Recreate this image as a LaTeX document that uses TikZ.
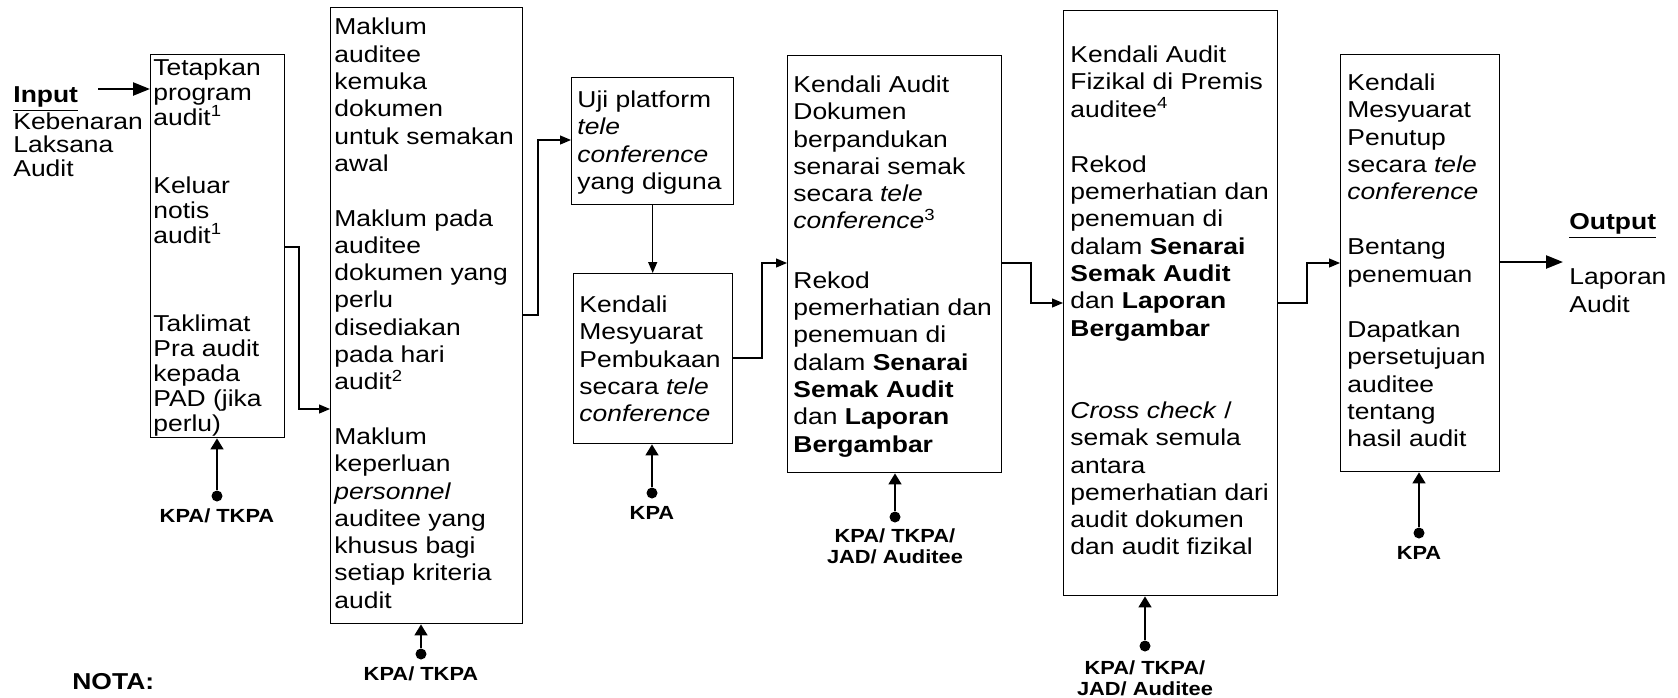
\documentclass[tikz,border=0pt]{standalone}
\usepackage{fontspec}
\setmainfont{Liberation Sans}[FakeStretch=1.15]
\usetikzlibrary{arrows.meta}
\newcommand\firstln{\rule{0pt}{10pt}}
\newcommand\firstlb{\rule{0pt}{8pt}}
\begin{document}
\begin{tikzpicture}[x=0.5pt,y=-0.5pt,
  box/.style={draw, line width=0.7pt, inner sep=0, anchor=north west},
  txt/.style={inner sep=0, anchor=north west, align=left, font=\fontsize{11.5}{13.65}\selectfont},
  conn/.style={line width=0.6pt, -{Triangle[length=5.5pt,width=4.5pt]}},
  kpa/.style={line width=0.8pt, -{Triangle[length=5.5pt,width=6.5pt]}},
  dotn/.style={circle, fill, inner sep=0, minimum size=5.5pt},
  lbl/.style={inner sep=0, anchor=north, align=center, font=\fontsize{9.5}{10.5}\selectfont\bfseries},
  big/.style={line width=1.2pt, -{Triangle[length=8.5pt,width=6.5pt]}}]
\fill[white] (0,0) rectangle (1678,697);
\useasboundingbox (0,0) rectangle (1678,697);

% boxes
\node[box, minimum width=67pt, minimum height=191.5pt] (b1) at (150,54) {};
\node[box, minimum width=96pt, minimum height=308pt] (b2) at (330,7) {};
\node[box, minimum width=81pt, minimum height=63.5pt] (b3) at (571,77) {};
\node[box, minimum width=79.5pt, minimum height=85pt] (b4) at (573,273) {};
\node[box, minimum width=107pt, minimum height=208.5pt] (b5) at (787,55) {};
\node[box, minimum width=107pt, minimum height=292.5pt] (b6) at (1063,10) {};
\node[box, minimum width=79.5pt, minimum height=208.5pt] (b7) at (1340,54) {};

% texts
\node[txt] (inp) at (13,82) {\firstln\textbf{\underline{Input}}};
\node[txt, font=\fontsize{11.5}{11.75}\selectfont] (inptxt) at (13,109) {\firstln Kebenaran\\Laksana\\Audit};

\node[txt, font=\fontsize{11.5}{12.5}\selectfont] (t1) at (153,55) {\firstln Tetapkan\\program\\audit\textsuperscript{1}\\[21.5pt]Keluar\\notis\\audit\textsuperscript{1}\\[31.5pt]Taklimat\\Pra audit\\kepada\\PAD (jika\\perlu)};

\node[txt] (t2) at (334,14.5) {\firstln Maklum\\auditee\\kemuka\\dokumen\\untuk semakan\\awal\\[13.65pt]Maklum pada\\auditee\\dokumen yang\\perlu\\disediakan\\pada hari\\audit\textsuperscript{2}\\[13.65pt]Maklum\\keperluan\\\textit{personnel}\\auditee yang\\khusus bagi\\setiap kriteria\\audit};

\node[txt] (t3) at (577,87) {\firstln Uji platform\\\textit{tele}\\\textit{conference}\\yang diguna};

\node[txt] (t4) at (579,292) {\firstln Kendali\\Mesyuarat\\Pembukaan\\secara \textit{tele}\\\textit{conference}};

\node[txt] (t5) at (793,72) {\firstln Kendali Audit\\Dokumen\\berpandukan\\senarai semak\\secara \textit{tele}\\\textit{conference}\textsuperscript{3}\\[16pt]Rekod\\pemerhatian dan\\penemuan di\\dalam \textbf{Senarai}\\\textbf{Semak Audit}\\dan \textbf{Laporan}\\\textbf{Bergambar}};

\node[txt] (t6) at (1070,42) {\firstln Kendali Audit\\Fizikal di Premis\\auditee\textsuperscript{4}\\[14pt]Rekod\\pemerhatian dan\\penemuan di\\dalam \textbf{Senarai}\\\textbf{Semak Audit}\\dan \textbf{Laporan}\\\textbf{Bergambar}\\[27.5pt]\textit{Cross check} /\\semak semula\\antara\\pemerhatian dari\\audit dokumen\\dan audit fizikal};

\node[txt] (t7) at (1347,70) {\firstln Kendali\\Mesyuarat\\Penutup\\secara \textit{tele}\\\textit{conference}\\[14pt]Bentang\\penemuan\\[14pt]Dapatkan\\persetujuan\\auditee\\tentang\\hasil audit};

\node[txt] (outp) at (1569,209) {\firstln\textbf{\underline{Output}}};
\node[txt, font=\fontsize{11.5}{14}\selectfont] (outtxt) at (1569,264) {\firstln Laporan\\Audit};

\node[txt] (nota) at (72,669) {\firstln\textbf{NOTA:}};

% input / output arrows
\coordinate (inS) at (98,89);
\draw[big] (inS) -- (inS -| b1.west);
\coordinate (outE) at (1563,262);
\draw[big] (b7.east |- outE) -- (outE);

% connectors
\coordinate (c12a) at (299,247); \coordinate (c12b) at (299,409);
\draw[conn] (b1.east |- c12a) -- (c12a) -- (c12b) -- (b2.west |- c12b);
\coordinate (c23a) at (538,315); \coordinate (c23b) at (538,140);
\draw[conn] (b2.east |- c23a) -- (c23a) -- (c23b) -- (b3.west |- c23b);
\draw[conn] (b3.south) -- (b3.south |- b4.north);
\coordinate (c45a) at (762,358); \coordinate (c45b) at (762,263);
\draw[conn] (b4.east |- c45a) -- (c45a) -- (c45b) -- (b5.west |- c45b);
\coordinate (c56a) at (1031,263); \coordinate (c56b) at (1031,303);
\draw[conn] (b5.east |- c56a) -- (c56a) -- (c56b) -- (b6.west |- c56b);
\coordinate (c67a) at (1307,303); \coordinate (c67b) at (1307,263);
\draw[conn] (b6.east |- c67a) -- (c67a) -- (c67b) -- (b7.west |- c67b);

% KPA inputs
\node[dotn] (d1) at (217,496) {};
\draw[kpa] (d1) -- (d1 |- b1.south);
\node[lbl] (l1) at (217,506) {\firstlb KPA/ TKPA};

\node[dotn] (d2) at (421,654) {};
\draw[kpa] (d2) -- (d2 |- b2.south);
\node[lbl] (l2) at (421,664) {\firstlb KPA/ TKPA};

\node[dotn] (d4) at (652,493) {};
\draw[kpa] (d4) -- (d4 |- b4.south);
\node[lbl] (l4) at (652,503) {\firstlb KPA};

\node[dotn] (d5) at (895,517) {};
\draw[kpa] (d5) -- (d5 |- b5.south);
\node[lbl] (l5) at (895,526) {\firstlb KPA/ TKPA/\\JAD/ Auditee};

\node[dotn] (d6) at (1145,646) {};
\draw[kpa] (d6) -- (d6 |- b6.south);
\node[lbl] (l6) at (1145,658) {\firstlb KPA/ TKPA/\\JAD/ Auditee};

\node[dotn] (d7) at (1419,533) {};
\draw[kpa] (d7) -- (d7 |- b7.south);
\node[lbl] (l7) at (1419,543) {\firstlb KPA};
\end{tikzpicture}
\end{document}
